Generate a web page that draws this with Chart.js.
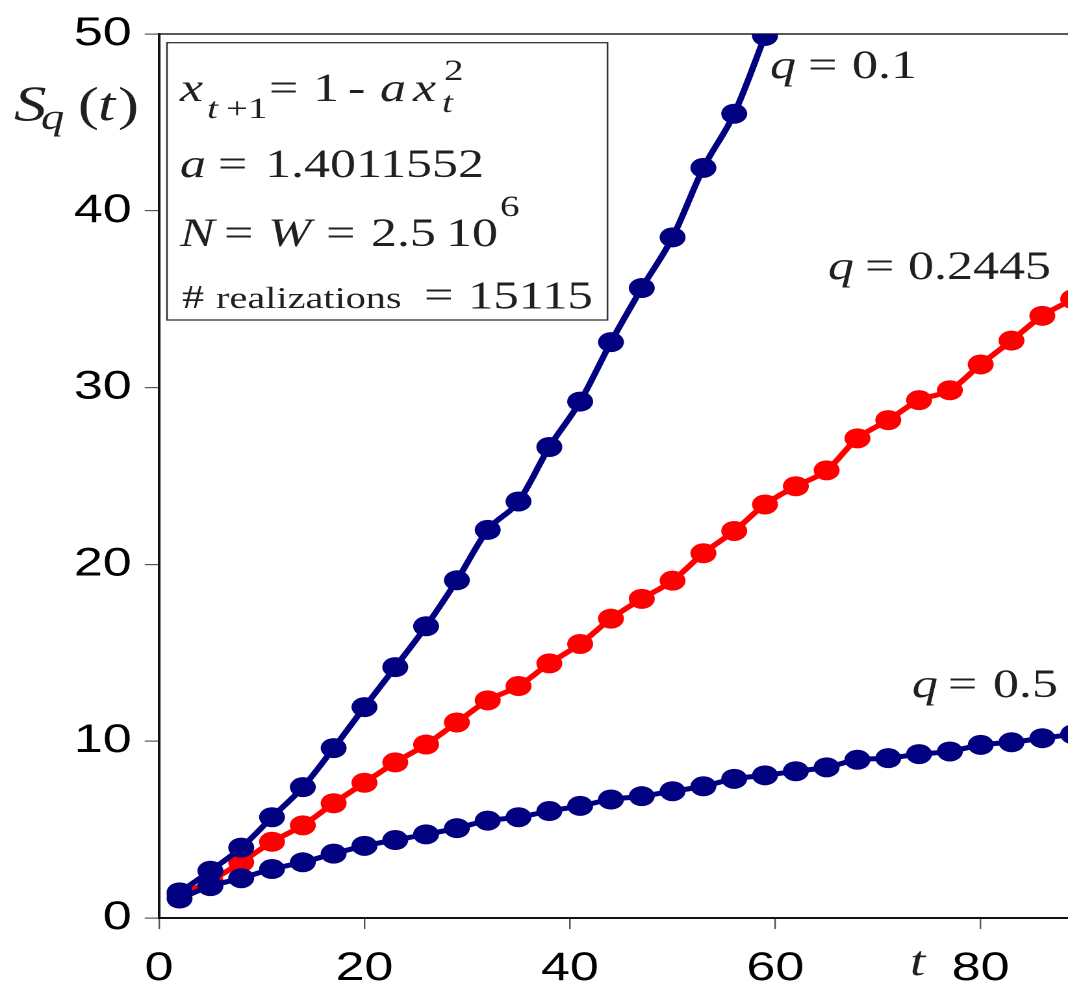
<!DOCTYPE html>
<html>
<head>
<meta charset="utf-8">
<title>S_q(t) logistic map</title>
<script src="https://cdn.jsdelivr.net/npm/chart.js@4/dist/chart.umd.min.js"></script>
<style>
  html, body { margin: 0; padding: 0; background: #fff; overflow: hidden; }
  /* the original figure is stretched sideways, so draw it narrow and stretch the whole thing */
  #wrap { position: absolute; left: 0; top: 0; width: 822px; height: 990px; transform: scaleX(1.29927); transform-origin: 0 0; }
</style>
</head>
<body>
<div id="wrap"><canvas id="chart"></canvas></div>
<script>
const STRETCH = 1068 / 822;

// time steps (t) shared by the three curves
const tValues = [2, 5, 8, 11, 14, 17, 20, 23, 26, 29, 32, 35, 38, 41, 44, 47, 50, 53, 56, 59,
                 62, 65, 68, 71, 74, 77, 80, 83, 86, 89];

// S_q(t)
const sqQ01 = [1.45, 2.67, 3.98, 5.70, 7.40, 9.61, 11.93, 14.19, 16.50, 19.10,
               21.95, 23.56, 26.64, 29.21, 32.57, 35.63, 38.50, 42.43, 45.49, 49.89];
const sqQ02445 = [1.3, 2.1, 3.15, 4.31, 5.24, 6.49, 7.65, 8.80, 9.81, 11.06,
                  12.31, 13.12, 14.40, 15.50, 16.93, 18.05, 19.08, 20.63, 21.89, 23.39,
                  24.42, 25.32, 27.13, 28.16, 29.29, 29.85, 31.31, 32.66, 34.06, 35.0];
const sqQ05 = [1.1, 1.80, 2.25, 2.77, 3.15, 3.64, 4.08, 4.41, 4.73, 5.08,
               5.51, 5.70, 6.05, 6.34, 6.70, 6.89, 7.17, 7.45, 7.87, 8.07,
               8.30, 8.52, 8.95, 9.04, 9.27, 9.42, 9.79, 9.94, 10.17, 10.39];

const xTicks = [0, 20, 40, 60, 80];
const yTicks = [0, 10, 20, 30, 40, 50];

const NAVY = '#000080';
const RED = '#ff0000';
const INK = '#231f20';

function toPoints(values) {
    return values.map((v, i) => ({ x: tValues[i], y: v }));
}

function series(label, values, color) {
    return {
        label: label,
        data: toPoints(values),
        borderColor: color,
        backgroundColor: color,
        borderWidth: 5,
        pointRadius: 10,
        pointBorderWidth: 0,
        pointHoverRadius: 10,
        cubicInterpolationMode: 'monotone'
    };
}

// x positions below are measured on the stretched picture, so squeeze them back
const ux = x => x / STRETCH;

function put(ctx, str, x, y, size, italic) {
    ctx.font = (italic ? 'italic ' : '') + size + 'px "Liberation Serif", "Times New Roman", serif';
    ctx.fillText(str, ux(x), y);
}

// frame line on top, text box, axis titles and curve labels
const decorations = {
    id: 'decorations',
    beforeDatasetsDraw(chart) {
        const { ctx, chartArea } = chart;
        ctx.save();
        ctx.strokeStyle = '#222';
        ctx.lineWidth = 1.5;
        ctx.beginPath();
        ctx.moveTo(chartArea.left, chartArea.top);
        ctx.lineTo(chart.width, chartArea.top);
        ctx.stroke();
        ctx.restore();
    },
    afterDraw(chart) {
        const ctx = chart.ctx;
        ctx.save();
        ctx.fillStyle = INK;
        ctx.textAlign = 'left';
        ctx.textBaseline = 'alphabetic';

        // y axis title S_q (t)
        put(ctx, 'S', 14, 120, 50, true);
        put(ctx, 'q', 41, 129, 36, true);
        put(ctx, '(', 78, 120, 48, false);
        put(ctx, 't', 98, 120, 48, true);
        put(ctx, ')', 118, 120, 48, false);

        // x axis title
        put(ctx, 't', 910, 975, 42, true);

        // info box
        ctx.strokeStyle = '#333';
        ctx.lineWidth = 1.3;
        ctx.strokeRect(ux(167), 42.7, ux(607.5) - ux(167), 320 - 42.7);

        put(ctx, 'x', 180, 101, 40, true);
        put(ctx, 't', 207, 118, 30, true);
        put(ctx, '+1', 226, 118, 30, false);
        put(ctx, '=', 269, 101, 40, false);
        put(ctx, '1', 313, 101, 40, false);
        put(ctx, '-', 348, 101, 40, false);
        put(ctx, 'a', 380, 101, 40, true);
        put(ctx, 'x', 413, 101, 40, true);
        put(ctx, '2', 444, 80, 30, false);
        put(ctx, 't', 442, 112, 30, true);

        put(ctx, 'a', 180, 177, 40, true);
        put(ctx, '=', 218, 177, 40, false);
        put(ctx, '1.4011552', 265, 177, 40, false);

        put(ctx, 'N', 180, 246, 40, true);
        put(ctx, '=', 224, 246, 40, false);
        put(ctx, 'W', 268, 246, 40, true);
        put(ctx, '=', 326, 246, 40, false);
        put(ctx, '2.5', 371, 246, 40, false);
        put(ctx, '10', 446, 246, 40, false);
        put(ctx, '6', 500, 216, 30, false);

        put(ctx, '#', 182, 308, 34, false);
        put(ctx, 'realizations', 216, 308, 31, false);
        put(ctx, '=', 424, 308, 40, false);
        put(ctx, '15115', 468, 308, 39, false);

        // curve labels
        put(ctx, 'q', 770, 78, 40, true);
        put(ctx, '=', 808, 78, 40, false);
        put(ctx, '0.1', 852, 78, 40, false);

        put(ctx, 'q', 828, 279, 40, true);
        put(ctx, '=', 865, 279, 40, false);
        put(ctx, '0.2445', 908, 279, 40, false);

        put(ctx, 'q', 912, 697, 40, true);
        put(ctx, '=', 948, 697, 40, false);
        put(ctx, '0.5', 993, 697, 40, false);

        ctx.restore();
    }
};

const tickFont = { family: '"Liberation Sans", Arial, sans-serif', size: 40 };

new Chart(document.getElementById('chart'), {
    type: 'line',
    data: {
        datasets: [
            series('q = 0.1', sqQ01, NAVY),
            series('q = 0.5', sqQ05, NAVY),
            series('q = 0.2445', sqQ02445, RED)
        ]
    },
    options: {
        responsive: true,
        maintainAspectRatio: false,
        animation: false,
        devicePixelRatio: 2,
        layout: { autoPadding: false, padding: { top: 27.7, right: 0, bottom: 0, left: 0 } },
        plugins: {
            legend: { display: false },
            tooltip: { enabled: false }
        },
        events: [],
        scales: {
            x: {
                type: 'linear',
                min: 0,
                max: 88.5,
                afterBuildTicks: s => { s.ticks = xTicks.map(v => ({ value: v })); },
                afterFit: s => { s.height = 72; },
                grid: { display: true, drawOnChartArea: false, drawTicks: true, tickLength: 11, color: '#555', lineWidth: 1.2 },
                border: { display: true, color: '#111', width: 2 },
                ticks: { color: '#000', font: tickFont, padding: 16, maxRotation: 0, autoSkip: false }
            },
            y: {
                type: 'linear',
                min: 0,
                max: 50,
                afterBuildTicks: s => { s.ticks = yTicks.map(v => ({ value: v })); },
                afterFit: s => { s.width = 122.4; },
                grid: { display: true, drawOnChartArea: false, drawTicks: true, tickLength: 11, color: '#555', lineWidth: 1.2 },
                border: { display: true, color: '#111', width: 2 },
                ticks: { color: '#000', font: tickFont, padding: 10, autoSkip: false }
            }
        }
    },
    plugins: [decorations]
});
</script>
</body>
</html>
